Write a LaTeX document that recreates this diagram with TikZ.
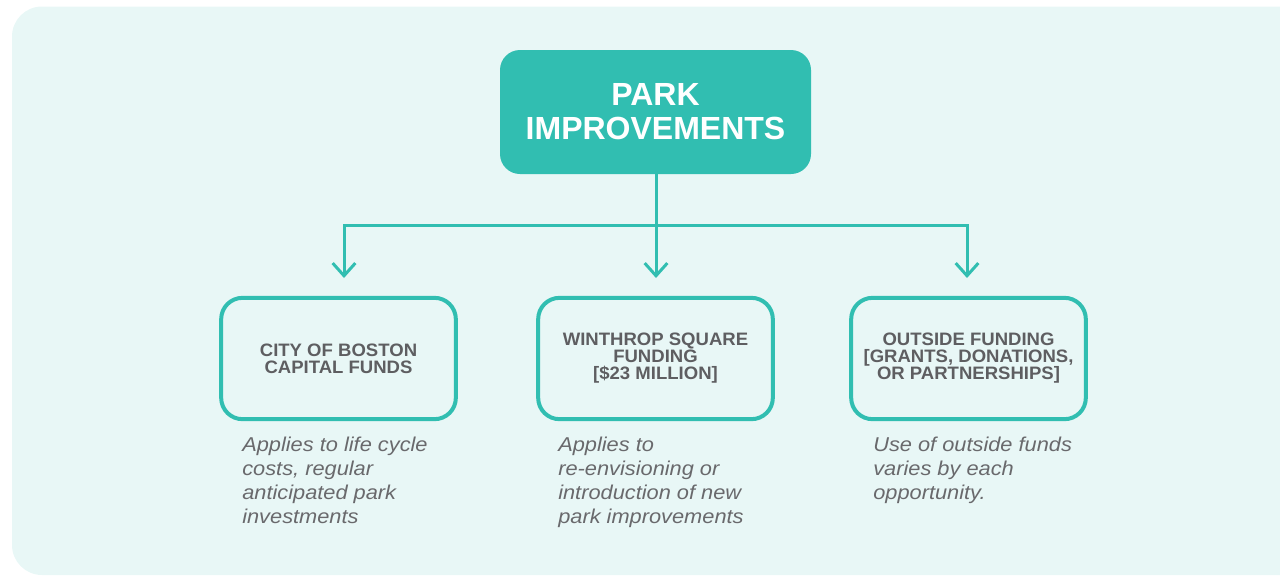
\documentclass[tikz,border=0pt]{standalone}
\usepackage{fontspec}
\setmainfont{Liberation Sans}
\newfontfamily\descfont[FakeStretch=1.09]{Liberation Sans}
\newfontfamily\boxfont[FakeStretch=1.03]{Liberation Sans}
\usetikzlibrary{arrows.meta}
\definecolor{teal1}{HTML}{31BEB1}
\definecolor{bgc}{HTML}{E8F7F6}
\definecolor{txtc}{HTML}{5E5E61}
\definecolor{descc}{HTML}{69696C}
\begin{document}
\begin{tikzpicture}[x=0.75pt,y=-0.75pt,
  topbox/.style={fill=teal1, rounded corners=15pt, minimum width=233.25pt, minimum height=93pt,
    text=white, font=\bfseries\fontsize{24}{25.5}\selectfont, align=center, inner sep=0pt},
  fundbox/.style={draw=teal1, line width=3pt, rounded corners=16pt, minimum width=176pt,
    minimum height=91pt, text=txtc, font=\boxfont\bfseries\fontsize{13.5}{12.75}\selectfont,
    align=center, inner sep=0pt},
  desctext/.style={anchor=north west, text=descc, font=\descfont\itshape\fontsize{15}{18}\selectfont,
    align=left, inner sep=0pt},
  conn/.style={draw=teal1, line width=2.25pt},
  tipped/.style={-{Straight Barb[length=9.5pt,width=17pt]}, shorten >=13.5pt}
]
\useasboundingbox (0,0) rectangle (1280,576);
\clip (0,0) rectangle (1280,576);
\fill[bgc, rounded corners=22.5pt] (12,6.5) rectangle (1310,575);

\node[topbox] (top) at (655.5,112) {PARK\\IMPROVEMENTS};

\node[fundbox] (b1) at (338.5,358.5) {CITY OF BOSTON\\CAPITAL FUNDS};
\node[fundbox] (b2) at (655.5,358.5) {WINTHROP SQUARE\\FUNDING\\{[}\$23 MILLION{]}};
\node[fundbox] (b3) at (968.5,358.5) {OUTSIDE FUNDING\\{[}GRANTS, DONATIONS,\\OR PARTNERSHIPS{]}};

\coordinate (j) at (656,225);
\coordinate (a1) at (344,296);
\coordinate (a2) at (656,296);
\coordinate (a3) at (967,296);

\draw[conn, tipped] (top.south -| j) -- (a2);
\draw[conn, tipped] (j) -| (a1);
\draw[conn, tipped] (j) -| (a3);

\node[desctext] (d1) at (242,437) {Applies to life cycle\\costs, regular\\anticipated park\\investments};
\node[desctext] (d2) at (558,437) {Applies to\\re-envisioning or\\introduction of new\\park improvements};
\node[desctext] (d3) at (873,437) {Use of outside funds\\varies by each\\opportunity.};
\end{tikzpicture}
\end{document}
